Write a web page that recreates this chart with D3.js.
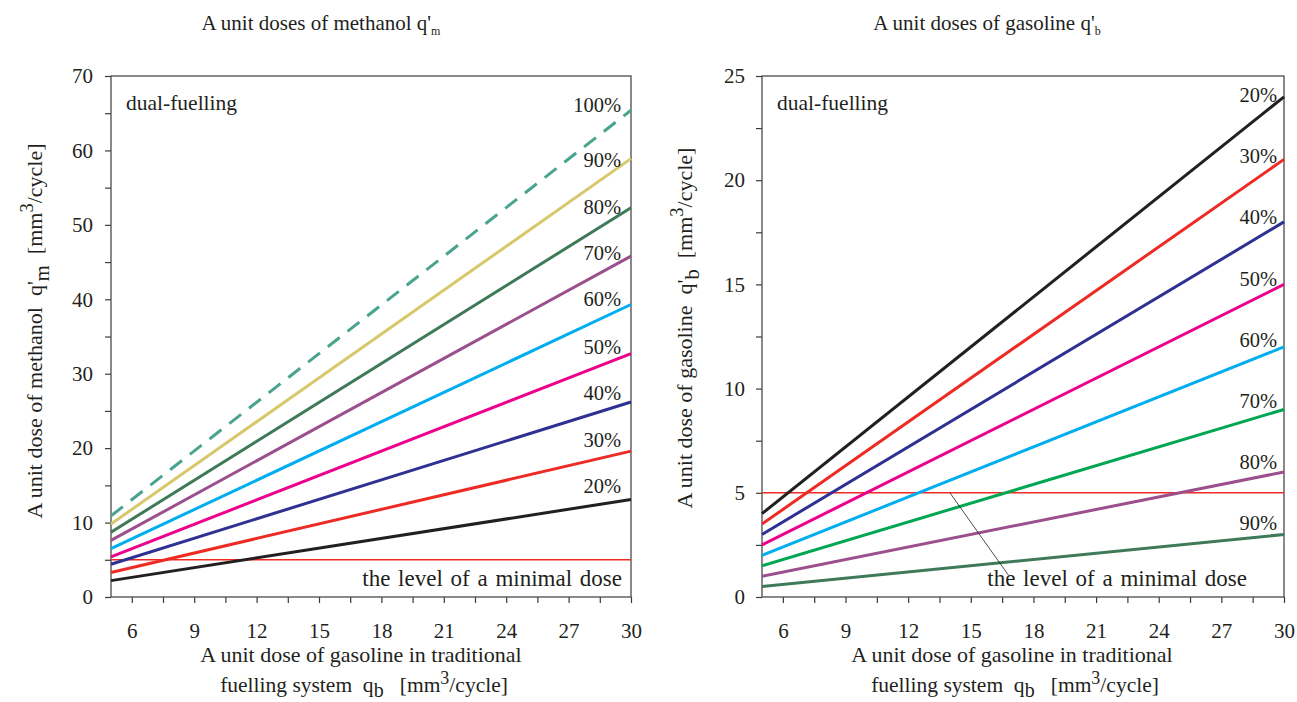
<!DOCTYPE html>
<html><head><meta charset="utf-8">
<script src="https://cdn.jsdelivr.net/npm/d3@7"></script>
<style>
body{margin:0;background:#fff}
svg, svg text{font-family:'Liberation Serif','DejaVu Serif','Times New Roman',Times,serif;}
svg text{fill:#231f20;white-space:pre}
</style></head><body>
<svg id="chart" width="1297" height="702" font-family="Liberation Serif, DejaVu Serif, serif"></svg>
<script>
// ---------- data ----------
const qbRange = [5, 30];
const xTickValues = [6, 7.5, 9, 10.5, 12, 13.5, 15, 16.5, 18, 19.5, 21, 22.5, 24, 25.5, 27, 28.5, 30];
const xTickLabels = [6, 9, 12, 15, 18, 21, 24, 27, 30];

const methanolShares = ["20%", "30%", "40%", "50%", "60%", "70%", "80%", "90%", "100%"];
const methanolAtQb5 = [2.2, 3.3, 4.4, 5.4, 6.5, 7.6, 8.7, 9.8, 10.9];
const methanolAtQb30 = [13.1, 19.6, 26.2, 32.7, 39.3, 45.8, 52.3, 58.9, 65.4];
const methanolYTicks = [0, 5, 10, 15, 20, 25, 30, 35, 40, 45, 50, 55, 60, 65, 70];
const methanolYLabels = [0, 10, 20, 30, 40, 50, 60, 70];

const gasolineShares = ["20%", "30%", "40%", "50%", "60%", "70%", "80%", "90%"];
const gasolineAtQb5 = [4.0, 3.5, 3.0, 2.5, 2.0, 1.5, 1.0, 0.5];
const gasolineAtQb30 = [24, 21, 18, 15, 12, 9, 6, 3];
const gasolineYTicks = [0, 2.5, 5, 7.5, 10, 12.5, 15, 17.5, 20, 22.5, 25];
const gasolineYLabels = [0, 5, 10, 15, 20, 25];

const minimalDose = 5;

// ---------- styles ----------
const FONT = "'Liberation Serif','DejaVu Serif',serif";
const methanolColors = ["#231f20", "#ee2a24", "#2e3192", "#ec008c", "#00aeef", "#9b4f8c", "#3f7a58", "#d8c86c", "#4aa38e"];
const gasolineColors = ["#231f20", "#ee2a24", "#2e3192", "#ec008c", "#00aeef", "#00a651", "#9b4f8c", "#3f7a58"];

const svg = d3.select("#chart");
svg.append("rect").attr("width", 1297).attr("height", 702).attr("fill", "#fff");

function txt(sel) { return sel.style("font-family", FONT); }

function drawPanel(o) {
  const g = svg.append("g").style("font-family", FONT);
  const x = d3.scaleLinear().domain(qbRange).range([o.x0, o.x1]);
  const y = d3.scaleLinear().domain([0, o.ymax]).range([o.yBot, o.yTop]);

  // axes
  const yAxis = d3.axisLeft(y).tickValues(o.yTicks).tickSize(6).tickSizeOuter(0).tickPadding(o.yPad)
    .tickFormat(v => o.yLabels.includes(v) ? v : "");
  const ya = g.append("g").attr("transform", `translate(${o.x0},0)`).call(yAxis);
  const xAxis = d3.axisBottom(x).tickValues(xTickValues).tickSize(6).tickSizeOuter(0).tickPadding(20)
    .tickFormat(v => xTickLabels.includes(v) ? v : "");
  const xa = g.append("g").attr("transform", `translate(0,${o.yBot})`).call(xAxis);
  [ya, xa].forEach(a => {
    a.attr("font-family", null);
    a.select(".domain").remove();
    a.selectAll(".tick line").attr("stroke", "#3a3a3a").attr("stroke-width", 1.2);
    txt(a.selectAll(".tick text").attr("font-size", 21).attr("fill", "#231f20"));
  });

  // frame
  g.append("rect").attr("x", o.x0).attr("y", o.yTop).attr("width", o.x1 - o.x0).attr("height", o.yBot - o.yTop)
    .attr("fill", "none").attr("stroke", "#4a4a4a").attr("stroke-width", 1.3);

  // minimal dose
  g.append("line").attr("x1", x(qbRange[0])).attr("x2", x(qbRange[1]))
    .attr("y1", y(minimalDose)).attr("y2", y(minimalDose))
    .attr("stroke", "#ee2a24").attr("stroke-width", 1.5);

  // series
  const line = d3.line().x(d => x(d[0])).y(d => y(d[1]));
  o.shares.forEach((s, i) => {
    const pts = [[qbRange[0], o.at5[i]], [qbRange[1], o.at30[i]]];
    const dashed = o.dashedLast && i === o.shares.length - 1;
    g.append("path").datum(pts).attr("d", line).attr("fill", "none")
      .attr("stroke", o.colors[i]).attr("stroke-width", 3)
      .attr("stroke-dasharray", dashed ? "15,10" : null);
    const lv = o.la + o.lb * o.at30[i];
    txt(g.append("text")).attr("x", o.x1 - o.labelInset).attr("y", y(lv) - (dashed ? 8 : 0))
      .attr("dy", "0.35em").attr("text-anchor", "end").attr("font-size", 20.5).text(s);
  });

  // annotations
  txt(g.append("text")).attr("x", o.x0 + 15).attr("y", o.yTop + 26).attr("dy", "0.35em")
    .attr("font-size", 21.5).text("dual-fuelling");
  txt(g.append("text")).attr("x", o.minTextX).attr("y", o.yBot - 19).attr("dy", "0.35em")
    .attr("text-anchor", "end").attr("font-size", 23).attr("word-spacing", 2).text("the level of a minimal dose");

  // title
  const t = txt(g.append("text")).attr("x", o.titleX).attr("y", 30).attr("text-anchor", "middle").attr("font-size", 21);
  t.append("tspan").text(o.titleMain + " q'");
  t.append("tspan").attr("font-size", 12).attr("dy", 5).text(o.sub);

  // y label
  const yl = txt(g.append("text")).attr("transform", `translate(${o.yLabelX},${o.yLabelY}) rotate(-90)`)
    .attr("text-anchor", "middle").attr("font-size", 22);
  yl.append("tspan").text(o.yLabelMain + "  q'");
  yl.append("tspan").attr("dy", 7).attr("font-size", 20.5).text(o.sub);
  yl.append("tspan").attr("dy", -7).text("  [mm");
  yl.append("tspan").attr("dy", -9).attr("font-size", 18.5).text("3");
  yl.append("tspan").attr("dy", 9).text("/cycle]");

  // x label
  txt(g.append("text")).attr("x", o.xLabelX).attr("y", 662).attr("text-anchor", "middle").attr("font-size", 22)
    .text("A unit dose of gasoline in traditional");
  const xl = txt(g.append("text")).attr("x", o.xLabelX + 3).attr("y", 692).attr("text-anchor", "middle").attr("font-size", 21.5);
  xl.append("tspan").text("fuelling system  q");
  xl.append("tspan").attr("dy", 5).attr("font-size", 20).text("b");
  xl.append("tspan").attr("dy", -5).text("   [mm");
  xl.append("tspan").attr("dy", -8).attr("font-size", 18).text("3");
  xl.append("tspan").attr("dy", 8).text("/cycle]");

  return {g, x, y};
}

drawPanel({
  x0: 111, x1: 631, yTop: 76, yBot: 597, ymax: 70, yPad: 12,
  yTicks: methanolYTicks, yLabels: methanolYLabels,
  shares: methanolShares, at5: methanolAtQb5, at30: methanolAtQb30, colors: methanolColors,
  dashedLast: true, la: 2.35, lb: 0.958, labelInset: 10,
  minTextX: 622, titleX: 321, titleMain: "A unit doses of methanol", sub: "m",
  yLabelMain: "A unit dose of methanol", yLabelX: 42, yLabelY: 331, xLabelX: 361
});

const right = drawPanel({
  x0: 762, x1: 1284, yTop: 76, yBot: 597, ymax: 25, yPad: 11,
  yTicks: gasolineYTicks, yLabels: gasolineYLabels,
  shares: gasolineShares, at5: gasolineAtQb5, at30: gasolineAtQb30, colors: gasolineColors,
  dashedLast: false, la: 0.62, lb: 0.978, labelInset: 7,
  minTextX: 1247, titleX: 987, titleMain: "A unit doses of gasoline", sub: "b",
  yLabelMain: "A unit dose of gasoline", yLabelX: 692, yLabelY: 328, xLabelX: 1012
});

// leader line from minimal dose level to its label (right panel)
right.g.append("line")
  .attr("x1", right.x(14)).attr("y1", right.y(minimalDose))
  .attr("x2", right.x(16.8)).attr("y2", right.y(1.05))
  .attr("stroke", "#231f20").attr("stroke-width", 0.8);
</script>
</body></html>
